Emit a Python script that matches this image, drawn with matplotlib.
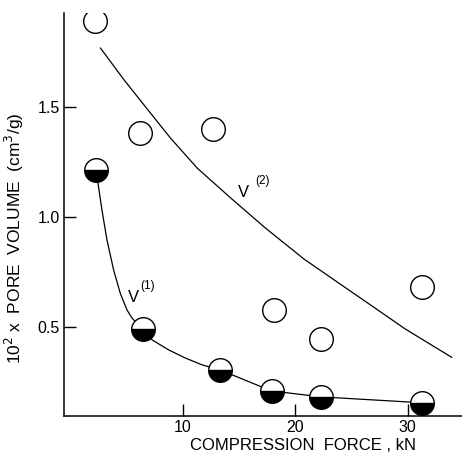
import matplotlib
matplotlib.use('Agg')
from matplotlib import pyplot as plt

# open circles, V(2)
v2_force = [2.2, 6.2, 12.7, 18.1, 22.3, 31.3]
v2_volume = [1.893, 1.380, 1.401, 0.577, 0.445, 0.680]

# half filled circles, V(1)
v1_force = [2.3, 6.5, 13.3, 17.9, 22.3, 31.3]
v1_volume = [1.214, 0.491, 0.305, 0.209, 0.182, 0.155]

# curves
v2_curve_x = [2.7, 4.8, 6.9, 8.9, 11.3, 14.3, 17.3, 20.8, 23.8, 25.9, 29.8, 33.9]
v2_curve_y = [1.768, 1.623, 1.488, 1.360, 1.222, 1.085, 0.952, 0.808, 0.702, 0.628, 0.490, 0.362]

v1_curve_x = [2.3, 2.44, 2.83, 3.28, 3.87, 4.46, 5.06, 5.51, 6.0, 6.5, 7.29, 8.78, 10.27, 11.76, 13.3,
              17.9, 22.3, 31.3]
v1_curve_y = [1.214, 1.168, 1.032, 0.895, 0.759, 0.653, 0.577, 0.540, 0.512, 0.491, 0.441, 0.395, 0.358,
              0.327, 0.305, 0.209, 0.182, 0.155]

x_ticks = [10, 20, 30]
y_ticks = [0.5, 1.0, 1.5]
y_tick_labels = ['0.5', '1.0', '1.5']

plt.rcParams['font.family'] = ['Liberation Sans', 'DejaVu Sans']

fig = plt.figure(figsize=(4.62, 4.61), dpi=100)
ax = fig.add_axes([0.1385, 0.0976, 0.861, 0.874])

ax.plot(v2_curve_x, v2_curve_y, color='black', linewidth=0.9, zorder=2)
ax.plot(v1_curve_x, v1_curve_y, color='black', linewidth=0.9, zorder=2)

ax.plot(v2_force, v2_volume, linestyle='none', marker='o', markersize=17,
        markerfacecolor='white', markeredgecolor='black', markeredgewidth=1.0, zorder=3)
ax.plot(v1_force, v1_volume, linestyle='none', marker='o', markersize=17, fillstyle='bottom',
        markerfacecolor='black', markerfacecoloralt='white', markeredgecolor='black',
        markeredgewidth=1.0, zorder=3)

# curve labels: V with raised (n)
ax.text(15.4, 1.111, 'V', fontsize=12, ha='center', va='center')
ax.annotate('(2)', xy=(15.4, 1.111), xytext=(13.5, 8.5), textcoords='offset points',
            fontsize=8.5, ha='center', va='center')
ax.text(5.63, 0.634, 'V', fontsize=12, ha='center', va='center')
ax.annotate('(1)', xy=(5.63, 0.634), xytext=(10.0, 8.0), textcoords='offset points',
            fontsize=8.5, ha='center', va='center')

ax.set_xlim(-0.54, 34.8)
ax.set_ylim(0.095, 1.927)
ax.set_xticks(x_ticks)
ax.set_yticks(y_ticks)
ax.set_yticklabels(y_tick_labels)
ax.tick_params(direction='in', length=8.5, width=1.0, labelsize=11.5, pad=3)

for side in ['top', 'right']:
    ax.spines[side].set_visible(False)
for side in ['left', 'bottom']:
    ax.spines[side].set_linewidth(1.1)

ax.set_xlabel('COMPRESSION  FORCE , kN', fontsize=12, labelpad=2, x=0.6)
ax.set_ylabel('10$^2$ x  PORE  VOLUME  (cm$^3$/g)', fontsize=12.5, labelpad=8, y=0.44)

fig.savefig('out.png', dpi=100)
